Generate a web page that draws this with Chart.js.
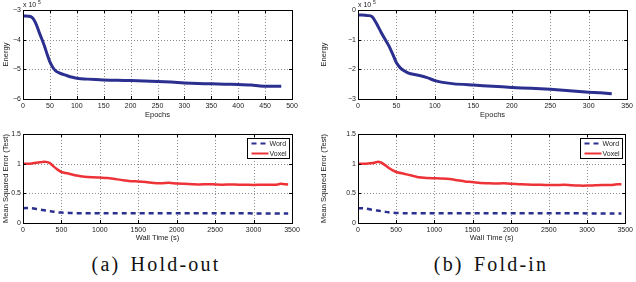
<!DOCTYPE html>
<html>
<head>
<meta charset="utf-8">
<script src="https://cdn.jsdelivr.net/npm/chart.js@4.4.1/dist/chart.umd.min.js"></script>
<style>
  body { margin: 0; background: #fff; }
  #wrap { position: relative; width: 636px; height: 282px; overflow: hidden; }
  canvas { position: absolute; }
  .caption { position: absolute; top: 253px; font-family: "Liberation Serif", "DejaVu Serif", serif; font-size: 20px; letter-spacing: 2.2px; word-spacing: 3px; color: #111; transform: translateX(-50%); white-space: nowrap; }
</style>
</head>
<body>
<div id="wrap">
  <canvas id="energyHold" width="318" height="125" style="left:0;top:0"></canvas>
  <canvas id="energyFold" width="318" height="125" style="left:318px;top:0"></canvas>
  <canvas id="mseHold" width="318" height="120" style="left:0;top:125px"></canvas>
  <canvas id="mseFold" width="318" height="120" style="left:318px;top:125px"></canvas>
  <div class="caption" style="left:156px">(a) Hold-out</div>
  <div class="caption" style="left:491px">(b) Fold-in</div>
</div>
<script>
// energy in units of 10^5
const holdEpochs = [0, 5, 10, 15, 20, 25, 30, 35, 40, 45, 50, 55, 60, 65, 70, 80, 90, 100, 120, 150, 175, 200, 225, 250, 275, 300, 325, 350, 375, 400, 425, 440, 460, 480];
const holdEnergy = [-3.20, -3.20, -3.21, -3.23, -3.32, -3.50, -3.75, -3.98, -4.22, -4.50, -4.75, -4.92, -5.04, -5.10, -5.14, -5.20, -5.26, -5.30, -5.33, -5.36, -5.37, -5.38, -5.39, -5.41, -5.43, -5.46, -5.48, -5.49, -5.50, -5.51, -5.53, -5.56, -5.57, -5.57];

const foldEpochs = [0, 5, 10, 15, 18, 20, 25, 30, 35, 40, 45, 50, 55, 60, 65, 70, 80, 90, 95, 100, 110, 125, 150, 175, 200, 225, 250, 275, 300, 315, 330];
const foldEnergy = [-0.17, -0.17, -0.18, -0.19, -0.22, -0.28, -0.50, -0.75, -0.98, -1.20, -1.48, -1.78, -1.95, -2.05, -2.12, -2.16, -2.21, -2.28, -2.33, -2.38, -2.44, -2.49, -2.53, -2.57, -2.61, -2.64, -2.67, -2.72, -2.77, -2.79, -2.82];

const wallTime = [0, 100, 200, 250, 300, 350, 400, 450, 500, 600, 700, 800, 900, 1000, 1100, 1200, 1300, 1400, 1500, 1600, 1700, 1800, 1900, 2000, 2100, 2200, 2300, 2400, 2500, 2600, 2700, 2800, 2900, 3000, 3100, 3200, 3300, 3350, 3400, 3450];
const holdVoxel = [1.00, 1.00, 1.02, 1.03, 1.03, 1.01, 0.95, 0.90, 0.86, 0.83, 0.80, 0.78, 0.77, 0.765, 0.76, 0.74, 0.72, 0.705, 0.70, 0.69, 0.675, 0.67, 0.68, 0.665, 0.66, 0.655, 0.65, 0.655, 0.65, 0.645, 0.65, 0.645, 0.645, 0.64, 0.645, 0.645, 0.645, 0.66, 0.655, 0.65];
const holdWord = [0.25, 0.25, 0.23, 0.22, 0.21, 0.20, 0.19, 0.18, 0.175, 0.17, 0.165, 0.165, 0.165, 0.165, 0.165, 0.165, 0.165, 0.165, 0.165, 0.165, 0.165, 0.165, 0.165, 0.165, 0.165, 0.165, 0.165, 0.165, 0.165, 0.165, 0.165, 0.165, 0.165, 0.16, 0.16, 0.16, 0.16, 0.16, 0.16, 0.16];
const foldVoxel = [1.00, 1.00, 1.01, 1.03, 1.02, 0.98, 0.93, 0.89, 0.86, 0.83, 0.80, 0.77, 0.76, 0.755, 0.75, 0.74, 0.72, 0.70, 0.69, 0.675, 0.67, 0.665, 0.67, 0.66, 0.655, 0.65, 0.645, 0.645, 0.64, 0.64, 0.645, 0.635, 0.63, 0.63, 0.635, 0.64, 0.64, 0.645, 0.655, 0.65];
const foldWord = [0.25, 0.245, 0.22, 0.21, 0.20, 0.19, 0.18, 0.175, 0.17, 0.165, 0.165, 0.165, 0.165, 0.165, 0.165, 0.165, 0.165, 0.165, 0.165, 0.165, 0.165, 0.165, 0.165, 0.165, 0.165, 0.165, 0.165, 0.165, 0.165, 0.165, 0.165, 0.165, 0.165, 0.16, 0.16, 0.16, 0.16, 0.16, 0.16, 0.16];

const holdEnergyTicks = [-6, -5, -4, -3];
const foldEnergyTicks = [-3, -2, -1, 0];
const mseTicks = [0, 0.5, 1, 1.5];
const epochTicks500 = [0, 50, 100, 150, 200, 250, 300, 350, 400, 450, 500];
const epochTicks350 = [0, 50, 100, 150, 200, 250, 300, 350];
const wallTicks = [0, 500, 1000, 1500, 2000, 2500, 3000, 3500];

const blue = "#2b2f8f";
const red = "#ee3338";
const tickFont = { family: "'Liberation Sans', Arial, sans-serif", size: 7 };

function pts(xs, ys) {
  return xs.map((x, i) => ({ x: x, y: ys[i] }));
}

// matlab style: dotted grid under the lines, box, inward ticks, exponent, boxed legend
const boxPlugin = {
  id: "box",
  beforeDatasetsDraw(chart) {
    const ctx = chart.ctx;
    const a = chart.chartArea;
    const xs = chart.scales.x, ys = chart.scales.y;
    ctx.save();
    ctx.strokeStyle = "#8c8c8c";
    ctx.lineWidth = 1;
    ctx.setLineDash([1, 2]);
    ctx.beginPath();
    xs.ticks.forEach(t => {
      const px = Math.round(xs.getPixelForValue(t.value)) + 0.5;
      ctx.moveTo(px, a.top); ctx.lineTo(px, a.bottom);
    });
    ys.ticks.forEach(t => {
      const py = Math.round(ys.getPixelForValue(t.value)) + 0.5;
      ctx.moveTo(a.left, py); ctx.lineTo(a.right, py);
    });
    ctx.stroke();
    ctx.restore();
  },
  afterDraw(chart, args, opts) {
    const ctx = chart.ctx;
    const a = chart.chartArea;
    const xs = chart.scales.x, ys = chart.scales.y;
    ctx.save();
    ctx.strokeStyle = "#000";
    ctx.lineWidth = 1;
    ctx.strokeRect(Math.round(a.left) + 0.5, Math.round(a.top) + 0.5, Math.round(a.right - a.left), Math.round(a.bottom - a.top));
    ctx.beginPath();
    xs.ticks.forEach(t => {
      const px = Math.round(xs.getPixelForValue(t.value)) + 0.5;
      ctx.moveTo(px, a.bottom); ctx.lineTo(px, a.bottom - 3);
      ctx.moveTo(px, a.top); ctx.lineTo(px, a.top + 3);
    });
    ys.ticks.forEach(t => {
      const py = Math.round(ys.getPixelForValue(t.value)) + 0.5;
      ctx.moveTo(a.left, py); ctx.lineTo(a.left + 3, py);
      ctx.moveTo(a.right, py); ctx.lineTo(a.right - 3, py);
    });
    ctx.stroke();
    if (opts.exponent) {
      ctx.fillStyle = "#222";
      ctx.font = "7px 'Liberation Sans', Arial, sans-serif";
      ctx.textBaseline = "alphabetic";
      ctx.fillText("x 10", a.left, a.top - 3);
      ctx.font = "5px 'Liberation Sans', Arial, sans-serif";
      ctx.fillText(opts.exponent, a.left + 15, a.top - 6);
    }
    if (opts.legend) {
      const w = 42, h = 20;
      const bx = Math.round(a.right - 3 - w) + 0.5, by = Math.round(a.top + 4) + 0.5;
      ctx.fillStyle = "#fff";
      ctx.fillRect(bx, by, w, h);
      ctx.strokeStyle = "#000";
      ctx.strokeRect(bx, by, w, h);
      ctx.font = "7px 'Liberation Sans', Arial, sans-serif";
      ctx.textBaseline = "middle";
      chart.data.datasets.forEach((ds, i) => {
        const ly = by + 5 + i * 10;
        ctx.beginPath();
        ctx.strokeStyle = ds.borderColor;
        ctx.lineWidth = 2;
        ctx.setLineDash(ds.borderDash || []);
        ctx.moveTo(bx + 4, ly); ctx.lineTo(bx + 21, ly);
        ctx.stroke();
        ctx.setLineDash([]);
        ctx.fillStyle = "#222";
        ctx.fillText(ds.label, bx + 22, ly + 0.5);
      });
    }
    ctx.restore();
  }
};

function makeChart(id, datasets, cfg) {
  return new Chart(document.getElementById(id), {
    type: "line",
    data: { datasets: datasets },
    plugins: [boxPlugin],
    options: {
      responsive: false,
      animation: false,
      layout: { padding: { top: cfg.top, right: cfg.right, left: 0, bottom: 0 } },
      elements: { point: { radius: 0 }, line: { tension: 0.2 } },
      plugins: {
        legend: { display: false },
        tooltip: { enabled: false },
        box: { exponent: cfg.exponent, legend: cfg.legend }
      },
      scales: {
        x: {
          type: "linear",
          min: 0,
          max: cfg.xMax,
          afterBuildTicks: s => { s.ticks = cfg.xTicks.map(v => ({ value: v })); },
          afterFit: s => { s.height = cfg.xHeight; },
          ticks: { font: tickFont, color: "#222", padding: 3, maxRotation: 0, autoSkip: false, callback: v => String(v) },
          grid: { display: false, drawTicks: false },
          border: { display: false },
          title: { display: true, text: cfg.xTitle, font: { family: tickFont.family, size: 7.5 }, color: "#222", padding: { top: 0, bottom: cfg.xTitlePad } }
        },
        y: {
          min: cfg.yTicks[0],
          max: cfg.yTicks[cfg.yTicks.length - 1],
          afterBuildTicks: s => { s.ticks = cfg.yTicks.map(v => ({ value: v })); },
          afterFit: s => { s.width = cfg.yWidth; },
          ticks: { font: tickFont, color: "#222", padding: 2, callback: v => String(v).replace("-", "\u2212") },
          grid: { display: false, drawTicks: false },
          border: { display: false },
          title: { display: true, text: cfg.yTitle, font: { family: tickFont.family, size: 7.5 }, color: "#222", padding: { top: 1, bottom: 0 } }
        }
      }
    }
  });
}

makeChart("energyHold", [
  { label: "Energy", data: pts(holdEpochs, holdEnergy), borderColor: blue, borderWidth: 3 }
], { top: 10, right: 26, yWidth: 23, xHeight: 26, xMax: 500, xTicks: epochTicks500, yTicks: holdEnergyTicks, xTitle: "Epochs", yTitle: "Energy", xTitlePad: 6, exponent: "5" });

makeChart("energyFold", [
  { label: "Energy", data: pts(foldEpochs, foldEnergy), borderColor: blue, borderWidth: 3 }
], { top: 10, right: 8, yWidth: 40, xHeight: 26, xMax: 350, xTicks: epochTicks350, yTicks: foldEnergyTicks, xTitle: "Epochs", yTitle: "Energy", xTitlePad: 6, exponent: "5" });

makeChart("mseHold", [
  { label: "Word", data: pts(wallTime, holdWord), borderColor: blue, borderWidth: 2.5, borderDash: [5, 4] },
  { label: "Voxel", data: pts(wallTime, holdVoxel), borderColor: red, borderWidth: 2.5 }
], { top: 9, right: 26, yWidth: 23, xHeight: 22, xMax: 3500, xTicks: wallTicks, yTicks: mseTicks, xTitle: "Wall Time (s)", yTitle: "Mean Squared Error (Test)", xTitlePad: 3, legend: true });

makeChart("mseFold", [
  { label: "Word", data: pts(wallTime, foldWord), borderColor: blue, borderWidth: 2.5, borderDash: [5, 4] },
  { label: "Voxel", data: pts(wallTime, foldVoxel), borderColor: red, borderWidth: 2.5 }
], { top: 9, right: 8, yWidth: 40, xHeight: 22, xMax: 3500, xTicks: wallTicks, yTicks: mseTicks, xTitle: "Wall Time (s)", yTitle: "Mean Squared Error (Test)", xTitlePad: 3, legend: true });
</script>
</body>
</html>
